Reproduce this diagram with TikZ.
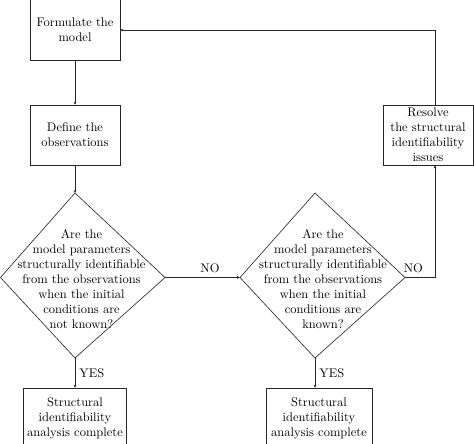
\documentclass[tikz,border=0pt]{standalone}
\usetikzlibrary{arrows.meta}
\begin{document}
\begin{tikzpicture}[x=0.8pt,y=-0.8pt,
  line/.style={draw=black!85, line width=0.5pt},
  arr/.style={line, -{Stealth[length=2.4pt,width=2.2pt]}},
  boxnode/.style={draw=black!85, line width=0.5pt, minimum width=72pt, minimum height=48pt, align=center, inner sep=0pt},
  txt/.style={align=center, inner sep=0pt, text=black}]
\clip (0,0) rectangle (474,443);
% boxes
\node[boxnode, minimum height=49pt] (form) at (75,30) {Formulate the\\model};
\node[boxnode] (def) at (75,135) {Define the\\observations};
\node[boxnode] (res) at (428,135) {Resolve\\the structural\\identifiability\\issues};
\node[boxnode, minimum width=82.4pt] (done1) at (75,418) {Structural\\identifiability\\analysis complete};
\node[boxnode, minimum width=84.8pt] (done2) at (319,418) {Structural\\identifiability\\analysis complete};
% decision 1
\coordinate (d1t) at (75,193);
\coordinate (d1l) at (0.5,277.5);
\coordinate (d1r) at (165,277.5);
\coordinate (d1b) at (75,358);
\draw[line] (d1t) -- (d1r) -- (d1b) -- (d1l) -- cycle;
\node[txt] (q1) at (81.5,279) {Are the\\model parameters\\structurally identifiable\\from the observations\\when the initial\\conditions are\\not known?};
% decision 2
\coordinate (d2t) at (315,193);
\coordinate (d2l) at (240,277.5);
\coordinate (d2r) at (405,277.5);
\coordinate (d2b) at (315,358);
\draw[line] (d2t) -- (d2r) -- (d2b) -- (d2l) -- cycle;
\node[txt] (q2) at (323,279) {Are the\\model parameters\\structurally identifiable\\from the observations\\when the initial\\conditions are\\known?};
% connectors
\coordinate (c1) at (435,277.5);
\coordinate (c2) at (435,30);
\draw[arr] (form) -- (def);
\draw[arr] (def) -- (d1t);
\draw[arr] (d1r) -- node[above, pos=0.6] {NO} (d2l);
\draw[arr] (d1b) -- node[right] {YES} (d1b |- done1.north);
\draw[arr] (d2b) -- node[right] {YES} (d2b |- done2.north);
\draw[arr] (d2r) -- node[above, pos=0.28] {NO} (c1) -- (c1 |- res.south);
\draw[arr] (c1 |- res.north) -- (c2) -- (form.east);
\end{tikzpicture}
\end{document}
